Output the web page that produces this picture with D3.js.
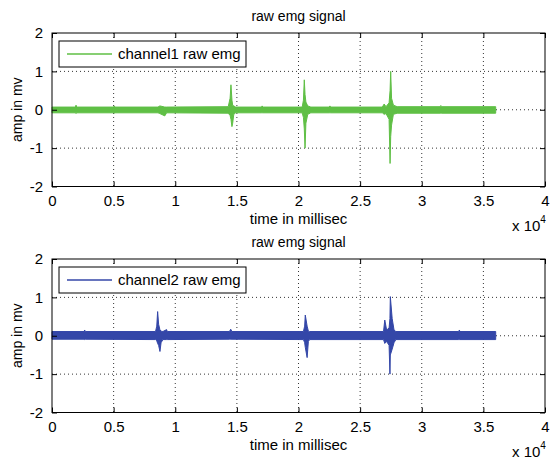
<!DOCTYPE html>
<html>
<head>
<meta charset="utf-8">
<script src="https://cdn.jsdelivr.net/npm/d3@7"></script>
<style>
  body { margin: 0; background: #fff; }
  text { font-family: Arial, "Liberation Sans", Helvetica, sans-serif; fill: #000; }
</style>
</head>
<body>
<div id="app"></div>
<script>
// x ticks (units of 1e4 ms) and y ticks
const xTicks = [0, 0.5, 1, 1.5, 2, 2.5, 3, 3.5, 4];
const yTicks = [-2, -1, 0, 1, 2];

// channel 1 envelope (time in ms, amplitude in mv)
const ch1Time  = [0, 1900, 1950, 2000, 5000, 5050, 5100, 8600, 8750, 9150, 9300, 14300, 14450, 14520, 14600, 14660, 14750, 14900, 17000, 17050, 17100, 20300, 20400, 20470, 20530, 20600, 20750, 21000, 22500, 22550, 22600, 26800, 26950, 27100, 27350, 27430, 27480, 27550, 27700, 28000, 31500, 31550, 31600, 36000];
const ch1Upper = [0.07, 0.07, 0.12, 0.07, 0.07, 0.1, 0.07, 0.07, 0.1, 0.07, 0.07, 0.08, 0.3, 0.65, 0.25, 0.12, 0.1, 0.07, 0.07, 0.1, 0.07, 0.07, 0.25, 0.78, 0.4, 0.2, 0.1, 0.07, 0.07, 0.1, 0.07, 0.07, 0.15, 0.08, 0.18, 0.5, 1.0, 0.3, 0.12, 0.08, 0.08, 0.11, 0.08, 0.08];
const ch1Lower = [-0.08, -0.08, -0.1, -0.08, -0.08, -0.09, -0.08, -0.08, -0.1, -0.16, -0.08, -0.09, -0.15, -0.25, -0.44, -0.35, -0.12, -0.08, -0.08, -0.08, -0.08, -0.08, -0.2, -0.5, -1.0, -0.35, -0.12, -0.08, -0.08, -0.08, -0.08, -0.08, -0.12, -0.1, -0.25, -1.4, -0.7, -0.4, -0.12, -0.09, -0.09, -0.09, -0.09, -0.09];

// channel 2 envelope
const ch2Time  = [0, 2600, 2650, 2700, 8400, 8500, 8570, 8650, 8760, 8850, 9000, 9300, 9350, 14400, 14500, 14600, 20400, 20500, 20550, 20700, 20800, 20900, 26900, 27000, 27150, 27350, 27420, 27450, 27600, 27750, 27900, 33000, 33050, 33100, 36000];
const ch2Upper = [0.11, 0.11, 0.15, 0.11, 0.11, 0.25, 0.63, 0.3, 0.15, 0.12, 0.11, 0.16, 0.11, 0.11, 0.17, 0.11, 0.11, 0.25, 0.54, 0.25, 0.12, 0.11, 0.11, 0.41, 0.15, 0.2, 0.45, 1.02, 0.45, 0.15, 0.11, 0.11, 0.15, 0.11, 0.11];
const ch2Lower = [-0.09, -0.09, -0.1, -0.09, -0.1, -0.13, -0.2, -0.25, -0.41, -0.18, -0.1, -0.1, -0.1, -0.09, -0.09, -0.09, -0.1, -0.18, -0.3, -0.57, -0.15, -0.1, -0.1, -0.2, -0.15, -0.25, -1.0, -0.5, -0.35, -0.18, -0.1, -0.1, -0.1, -0.1, -0.1];

const panels = [
  { top: 33, name: 'channel1 raw emg', color: '#5fbf45', time: ch1Time, upper: ch1Upper, lower: ch1Lower },
  { top: 259, name: 'channel2 raw emg', color: '#3447a8', time: ch2Time, upper: ch2Upper, lower: ch2Lower }
];

const W = 552, H = 459;
const left = 52, right = 545, plotH = 153.5;

const svg = d3.select('#app').append('svg')
  .attr('width', W)
  .attr('height', H);

const xScale = d3.scaleLinear().domain([0, 40000]).range([left, right]);

panels.forEach(p => {
  const yScale = d3.scaleLinear().domain([-2, 2]).range([p.top + plotH, p.top]);
  const g = svg.append('g');

  // dotted grid
  g.selectAll('.vgrid').data(xTicks.slice(1, -1)).enter().append('line')
    .attr('x1', d => xScale(d * 1e4)).attr('x2', d => xScale(d * 1e4))
    .attr('y1', p.top).attr('y2', p.top + plotH)
    .attr('stroke', '#000').attr('stroke-width', 0.8).attr('stroke-dasharray', '1,3');
  g.selectAll('.hgrid').data(yTicks.slice(1, -1)).enter().append('line')
    .attr('x1', left).attr('x2', right)
    .attr('y1', d => yScale(d)).attr('y2', d => yScale(d))
    .attr('stroke', '#000').attr('stroke-width', 0.8).attr('stroke-dasharray', '1,3');

  // signal envelope
  const pts = p.time.map((t, i) => ({ t: t, hi: p.upper[i], lo: p.lower[i] }));
  const area = d3.area()
    .x(d => xScale(d.t))
    .y0(d => yScale(d.lo))
    .y1(d => yScale(d.hi));
  g.append('path')
    .attr('d', area(pts))
    .attr('fill', p.color)
    .attr('stroke', p.color)
    .attr('stroke-width', 1);

  // axes with inward ticks on all sides
  const xb = d3.axisBottom(xScale).tickValues(xTicks.map(d => d * 1e4)).tickSize(-5).tickFormat(d => d / 1e4).tickPadding(9);
  const xt = d3.axisTop(xScale).tickValues(xTicks.map(d => d * 1e4)).tickSize(-5).tickFormat('');
  const yl = d3.axisLeft(yScale).tickValues(yTicks).tickSize(-5).tickFormat(d => d).tickPadding(9);
  const yr = d3.axisRight(yScale).tickValues(yTicks).tickSize(-5).tickFormat('');

  const styleAxis = sel => {
    sel.select('.domain').remove();
    sel.selectAll('line').attr('stroke', '#000');
    sel.selectAll('text').style('font-size', '15px').attr('fill', '#000');
  };
  g.append('g').attr('transform', `translate(0,${p.top + plotH})`).call(xb).call(styleAxis);
  g.append('g').attr('transform', `translate(0,${p.top})`).call(xt).call(styleAxis);
  g.append('g').attr('transform', `translate(${left},0)`).call(yl).call(styleAxis);
  g.append('g').attr('transform', `translate(${right},0)`).call(yr).call(styleAxis);

  g.append('rect')
    .attr('x', left).attr('y', p.top)
    .attr('width', right - left).attr('height', plotH)
    .attr('fill', 'none').attr('stroke', '#000').attr('stroke-width', 1);

  // titles and labels
  g.append('text').attr('x', (left + right) / 2).attr('y', p.top - 12)
    .attr('text-anchor', 'middle').style('font-size', '14px').text('raw emg signal');
  g.append('text').attr('x', (left + right) / 2).attr('y', p.top + plotH + 37)
    .attr('text-anchor', 'middle').style('font-size', '15px').text('time in millisec');
  g.append('text')
    .attr('transform', `translate(22,${p.top + plotH / 2}) rotate(-90)`)
    .attr('text-anchor', 'middle').style('font-size', '14px').text('amp in mv');

  const mult = g.append('text').attr('x', 512).attr('y', p.top + plotH + 44).style('font-size', '15px');
  mult.append('tspan').text('x 10');
  mult.append('tspan').attr('dy', -8).style('font-size', '10px').text('4');

  // legend
  const lg = g.append('g').attr('transform', `translate(59,${p.top + 8})`);
  lg.append('rect').attr('width', 187).attr('height', 26)
    .attr('fill', '#fff').attr('stroke', '#000').attr('stroke-width', 1);
  lg.append('line').attr('x1', 8).attr('x2', 53).attr('y1', 13).attr('y2', 13)
    .attr('stroke', p.color).attr('stroke-width', 1.5);
  lg.append('text').attr('x', 59).attr('y', 18).style('font-size', '15px').text(p.name);
});
</script>
</body>
</html>
